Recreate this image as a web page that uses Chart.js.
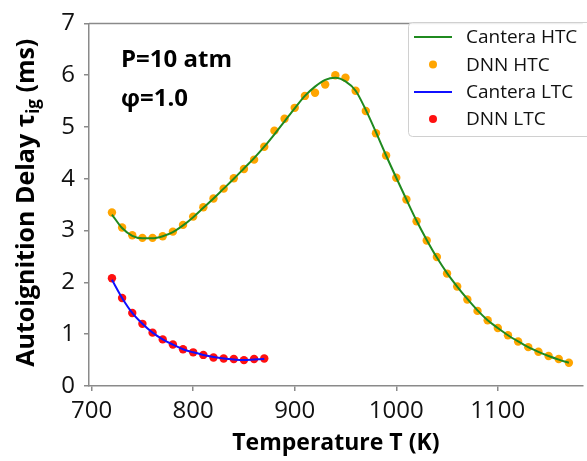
<!DOCTYPE html>
<html>
<head>
<meta charset="utf-8">
<script src="https://cdn.jsdelivr.net/npm/chart.js@4.4.1/dist/chart.umd.min.js"></script>
<style>
html, body { margin: 0; padding: 0; background: #fff; }
#wrap { width: 587px; height: 461px; }
</style>
</head>
<body>
<div id="wrap"><canvas id="grafico" width="587" height="461"></canvas></div>
<script>
// Temperature grids (K)
const tempHTC = [720, 730, 740, 750, 760, 770, 780, 790, 800, 810, 820, 830, 840, 850, 860, 870,
    880, 890, 900, 910, 920, 930, 940, 950, 960, 970, 980, 990, 1000, 1010, 1020, 1030, 1040,
    1050, 1060, 1070, 1080, 1090, 1100, 1110, 1120, 1130, 1140, 1150, 1160, 1170];
const tempLTC = [720, 730, 740, 750, 760, 770, 780, 790, 800, 810, 820, 830, 840, 850, 860, 870];

// Ignition delay (ms)
const canteraHTC = [3.31, 3.05, 2.90, 2.85, 2.85, 2.89, 2.97, 3.10, 3.26, 3.44, 3.62, 3.81, 4.00, 4.20,
    4.40, 4.62, 4.86, 5.11, 5.36, 5.60, 5.78, 5.91, 5.95, 5.88, 5.70, 5.33, 4.90, 4.45, 4.02, 3.60,
    3.19, 2.82, 2.48, 2.18, 1.92, 1.68, 1.46, 1.27, 1.12, 0.98, 0.86, 0.75, 0.66, 0.58, 0.51, 0.45];
const dnnHTC = [3.35, 3.06, 2.91, 2.86, 2.86, 2.89, 2.98, 3.11, 3.27, 3.45, 3.62, 3.81, 4.01, 4.19,
    4.37, 4.62, 4.93, 5.16, 5.37, 5.60, 5.66, 5.82, 6.00, 5.95, 5.70, 5.31, 4.88, 4.45, 4.02, 3.60,
    3.18, 2.81, 2.49, 2.17, 1.92, 1.67, 1.45, 1.27, 1.12, 0.98, 0.86, 0.75, 0.66, 0.58, 0.52, 0.45];
const canteraLTC = [2.05, 1.70, 1.41, 1.20, 1.03, 0.90, 0.80, 0.71, 0.65, 0.60, 0.56, 0.53, 0.51, 0.50, 0.51, 0.52];
const dnnLTC = [2.08, 1.70, 1.41, 1.20, 1.03, 0.90, 0.80, 0.71, 0.65, 0.60, 0.55, 0.53, 0.52, 0.50, 0.52, 0.53];

const xTicks = [700, 800, 900, 1000, 1100];
const yTicks = [0, 1, 2, 3, 4, 5, 6, 7];

const coloreAsse = '#8a8a8a';
const fontBase = "'Open Sans', 'DejaVu Sans', sans-serif";

function punti(xs, ys) {
    return xs.map((x, i) => ({ x: x, y: ys[i] }));
}

// Testi, bordo superiore e legenda disegnati sopra il grafico
const decorazioni = {
    id: 'decorazioni',
    afterDraw(chart) {
        const ctx = chart.ctx;
        const area = chart.chartArea;
        ctx.save();

        // bordo superiore
        ctx.strokeStyle = coloreAsse;
        ctx.lineWidth = 1.5;
        ctx.beginPath();
        ctx.moveTo(area.left, area.top);
        ctx.lineTo(area.right, area.top);
        ctx.stroke();

        // titolo asse x
        ctx.fillStyle = '#000';
        ctx.font = 'bold 23px ' + fontBase;
        ctx.textAlign = 'center';
        ctx.textBaseline = 'alphabetic';
        ctx.fillText('Temperature T (K)', (area.left + area.right) / 2, 450);

        // titolo asse y con pedice
        const parti = [
            { t: 'Autoignition Delay τ', f: 'bold 25px ' + fontBase, dy: 0 },
            { t: 'ig', f: 'bold 17px ' + fontBase, dy: 5 },
            { t: ' (ms)', f: 'bold 25px ' + fontBase, dy: 0 }
        ];
        let totale = 0;
        parti.forEach(p => { ctx.font = p.f; p.w = ctx.measureText(p.t).width; totale += p.w; });
        ctx.translate(34, (area.top + area.bottom) / 2 - 2);
        ctx.rotate(-Math.PI / 2);
        ctx.textAlign = 'left';
        let cx = -totale / 2;
        parti.forEach(p => {
            ctx.font = p.f;
            ctx.fillText(p.t, cx, p.dy);
            cx += p.w;
        });
        ctx.setTransform(1, 0, 0, 1, 0, 0);

        // annotazioni
        ctx.font = 'bold 24px ' + fontBase;
        ctx.fillText('P=10 atm', 121, 67);
        ctx.fillText('φ=1.0', 121, 106);

        // legenda
        const lx = 408, ly = 22, lw = 186, lh = 114;
        ctx.fillStyle = 'rgba(255,255,255,0.85)';
        ctx.strokeStyle = '#d0d0d0';
        ctx.lineWidth = 1;
        ctx.beginPath();
        ctx.roundRect(lx + 0.5, ly + 0.5, lw, lh, 4);
        ctx.fill();
        ctx.stroke();

        const voci = chart.data.datasets;
        const righe = [37, 64.5, 92, 119];
        ctx.font = '19px ' + fontBase;
        ctx.textBaseline = 'middle';
        voci.forEach((ds, i) => {
            const y = righe[i];
            if (ds.showLine) {
                ctx.strokeStyle = ds.borderColor;
                ctx.lineWidth = 2;
                ctx.beginPath();
                ctx.moveTo(414, y);
                ctx.lineTo(452, y);
                ctx.stroke();
            } else {
                ctx.fillStyle = ds.backgroundColor;
                ctx.beginPath();
                ctx.arc(433, y, 4, 0, Math.PI * 2);
                ctx.fill();
            }
            ctx.fillStyle = '#111';
            ctx.fillText(ds.label, 466, y + 1);
        });
        ctx.restore();
    }
};

const ctx = document.getElementById('grafico').getContext('2d');
new Chart(ctx, {
    type: 'scatter',
    data: {
        datasets: [{
            label: 'Cantera HTC',
            data: punti(tempHTC, canteraHTC),
            showLine: true,
            borderColor: '#1f8a1f',
            borderWidth: 2,
            pointRadius: 0,
            cubicInterpolationMode: 'monotone',
            order: 0
        }, {
            label: 'DNN HTC',
            data: punti(tempHTC, dnnHTC),
            showLine: false,
            backgroundColor: '#FFA500',
            borderWidth: 0,
            pointRadius: 4.2,
            order: 2
        }, {
            label: 'Cantera LTC',
            data: punti(tempLTC, canteraLTC),
            showLine: true,
            borderColor: '#1010ff',
            borderWidth: 2,
            pointRadius: 0,
            cubicInterpolationMode: 'monotone',
            order: 1
        }, {
            label: 'DNN LTC',
            data: punti(tempLTC, dnnLTC),
            showLine: false,
            backgroundColor: '#FF1010',
            borderWidth: 0,
            pointRadius: 4.2,
            order: 3
        }]
    },
    options: {
        responsive: false,
        animation: false,
        devicePixelRatio: 1,
        layout: { padding: { top: 13, right: 0, left: 0, bottom: 0 } },
        plugins: {
            legend: { display: false },
            tooltip: { enabled: false }
        },
        scales: {
            x: {
                type: 'linear',
                min: 697.4,
                max: 1183.7,
                afterBuildTicks: s => { s.ticks = xTicks.map(v => ({ value: v })); },
                afterFit: s => { s.height = 75; },
                grid: { display: true, drawOnChartArea: false, drawTicks: true, tickLength: 5, color: coloreAsse, lineWidth: 1.5 },
                border: { display: true, color: coloreAsse, width: 1.5 },
                ticks: { color: '#111', font: { family: fontBase, size: 24 }, padding: 6, maxRotation: 0, callback: v => String(v) }
            },
            y: {
                type: 'linear',
                min: 0,
                max: 7,
                afterBuildTicks: s => { s.ticks = yTicks.map(v => ({ value: v })); },
                afterFit: s => { s.width = 89; },
                grid: { display: true, drawOnChartArea: false, drawTicks: true, tickLength: 5, color: coloreAsse, lineWidth: 1.5 },
                border: { display: true, color: coloreAsse, width: 1.5 },
                ticks: { color: '#111', font: { family: fontBase, size: 24 }, padding: 9, callback: v => String(v) }
            }
        }
    },
    plugins: [decorazioni]
});
</script>
</body>
</html>
